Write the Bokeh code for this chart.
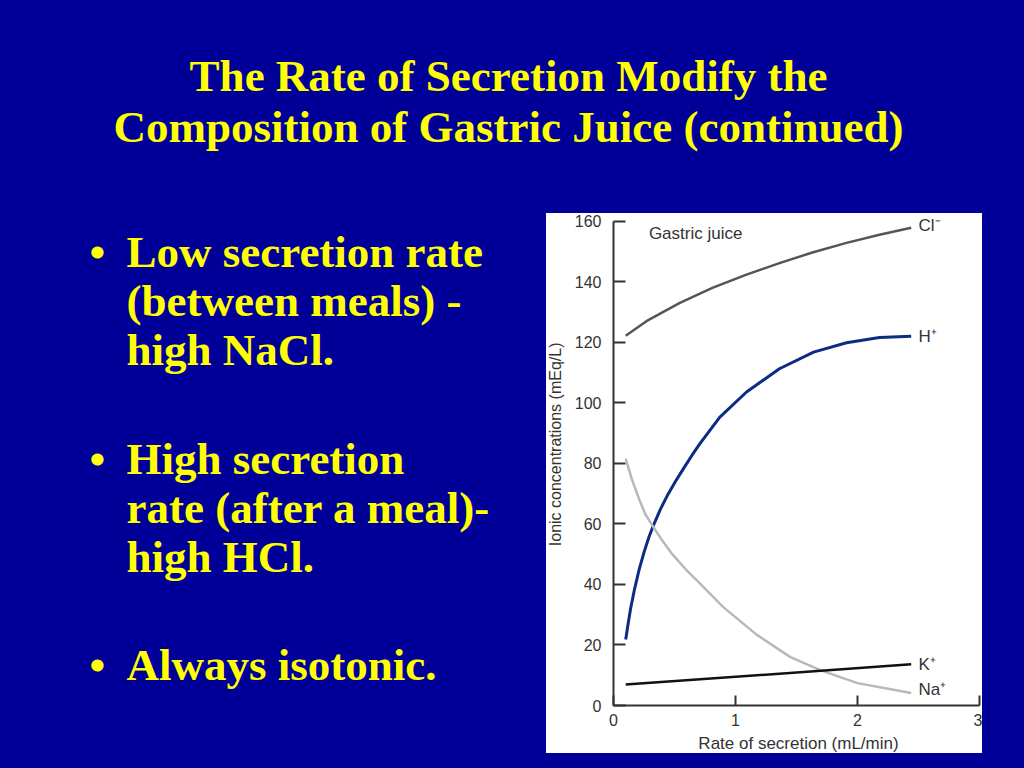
import math
from bokeh.plotting import figure
from bokeh.layouts import column, row
from bokeh.models import Range1d, FixedTicker, GlobalInlineStyleSheet, Spacer, Label
from bokeh.core.properties import value
from bokeh.embed import file_html
from bokeh.resources import INLINE

BG = "#000099"
YEL = "#FFFF00"
INK = "#333333"

# ---- texts ----
title_lines = ["The Rate of Secretion Modify the",
               "Composition of Gastric Juice (continued)"]
bullet_1 = ["Low secretion rate", "(between meals) -", "high NaCl."]
bullet_2 = ["High secretion", "rate (after a meal)-", "high HCl."]
bullet_3 = ["Always isotonic."]

x_label = "Rate of secretion (mL/min)"
y_label = "Ionic concentrations (mEq/L)"
panel_label = "Gastric juice"
ion_labels = ["Cl\u207b", "H\u207a", "K\u207a", "Na\u207a"]

x_ticks = [0, 1, 2, 3]
y_ticks = [0, 20, 40, 60, 80, 100, 120, 140, 160]

# ---- series ----
cl_x = [0.10, 0.27, 0.54, 0.81, 1.09, 1.36, 1.63, 1.91, 2.18, 2.44]
cl_y = [122.2, 127.0, 133.0, 138.0, 142.4, 146.2, 149.7, 152.9, 155.6, 157.9]

h_x = [0.10, 0.12, 0.14, 0.17, 0.21, 0.25, 0.29, 0.33, 0.385, 0.44, 0.51,
       0.58, 0.645, 0.71, 0.87, 1.09, 1.36, 1.64, 1.91, 2.18, 2.44]
h_y = [21.8, 27.0, 32.0, 38.0, 44.9, 50.6, 55.6, 59.8, 64.9, 69.3, 74.2,
       78.7, 82.8, 86.6, 95.2, 103.6, 111.3, 116.8, 119.9, 121.6, 122.0]

na_x = [0.10, 0.15, 0.21, 0.26, 0.33, 0.40, 0.48, 0.59, 0.70, 0.90, 1.17,
        1.45, 1.70, 2.00, 2.44]
na_y = [81.6, 74.8, 68.2, 63.3, 58.8, 54.5, 50.1, 45.1, 40.7, 32.5, 23.5,
        16.0, 11.6, 7.4, 4.1]

k_x = [0.10, 2.44]
k_y = [6.9, 13.6]


def blank(w, h, fill):
    f = figure(width=w, height=h, x_range=Range1d(0, w), y_range=Range1d(h, 0),
               output_backend="svg", toolbar_location=None, title=None,
               min_border=0, min_border_left=0, min_border_right=0,
               min_border_top=0, min_border_bottom=0,
               x_axis_location=None, y_axis_location=None)
    f.grid.visible = False
    f.outline_line_color = None
    f.background_fill_color = fill
    f.border_fill_color = fill
    return f


serif = value("Liberation Serif")
sans = value("Liberation Sans")

# ---- title ----
head = blank(1016, 213, BG)
head.text(x=[508, 508], y=[75, 126], text=title_lines, text_font=serif,
          text_font_style="bold", text_font_size="45px", text_color=YEL,
          text_align="center", text_baseline="middle")

# ---- bullets ----
left = blank(546, 547, BG)
groups = [(bullet_1, 38), (bullet_2, 245), (bullet_3, 451)]
for lines, mid in groups:
    ys = [mid + 49 * i for i in range(len(lines))]
    left.text(x=[126] * len(lines), y=ys, text=lines, text_font=serif,
              text_font_style="bold", text_font_size="45px", text_color=YEL,
              text_align="left", text_baseline="middle")
    left.text(x=[89], y=[mid], text=["\u2022"], text_font=serif,
              text_font_style="bold", text_font_size="45px", text_color=YEL,
              text_align="left", text_baseline="middle")

# ---- chart ----
chart = figure(width=416, height=520, x_range=Range1d(0, 3), y_range=Range1d(0, 162.6),
               output_backend="svg", toolbar_location=None, title=None,
               min_border_left=47, min_border_right=3, min_border_top=0, min_border_bottom=28)
chart.background_fill_color = "white"
chart.border_fill_color = "white"
chart.outline_line_color = None
chart.grid.visible = False

chart.line(cl_x, cl_y, line_color="#555555", line_width=2.5, line_join="round")
chart.line(h_x, h_y, line_color="#0c2c84", line_width=3, line_join="round")
chart.line(na_x, na_y, line_color="#b8b8b8", line_width=2.5, line_join="round")
chart.line(k_x, k_y, line_color="#111111", line_width=2.5, line_join="round")

chart.add_layout(Label(x=0.29, y=156, text=panel_label, text_font="Liberation Sans",
                       text_font_size="17px", text_color=INK, text_align="left",
                       text_baseline="middle"))
end_y = [cl_y[-1] + 0.8, h_y[-1], k_y[-1], na_y[-1] + 1.2]
for name, yv in zip(ion_labels, end_y):
    chart.add_layout(Label(x=2.50, y=yv, text=name, text_font="Liberation Sans",
                           text_font_size="17px", text_color=INK, text_align="left",
                           text_baseline="middle"))

for ax in (chart.xaxis[0], chart.yaxis[0]):
    ax.axis_line_color = INK
    ax.axis_line_width = 2
    ax.major_tick_line_color = INK
    ax.major_tick_line_width = 2
    ax.major_tick_out = 0
    ax.minor_tick_line_color = None
    ax.major_label_text_font = "Liberation Sans"
    ax.major_label_text_font_size = "16px"
    ax.major_label_text_color = INK

chart.xaxis[0].ticker = FixedTicker(ticks=x_ticks)
chart.yaxis[0].ticker = FixedTicker(ticks=y_ticks)
chart.yaxis[0].bounds = (y_ticks[0], y_ticks[-1])
chart.xaxis[0].major_tick_in = 10
chart.yaxis[0].major_tick_in = 12
chart.xaxis[0].major_label_standoff = 8
chart.yaxis[0].major_label_standoff = 12

# axis titles in thin white strips beside the chart
ylab = blank(20, 520, "white")
ylab.text(x=[9], y=[244], text=[y_label], text_font=sans, text_font_size="16px",
          text_color=INK, text_align="center", text_baseline="middle", angle=math.pi / 2)
xlab = blank(436, 20, "white")
xlab.text(x=[252], y=[10], text=[x_label], text_font=sans, text_font_size="17px",
          text_color=INK, text_align="center", text_baseline="middle")

WHITE = {"background-color": "white"}
white_panel = column(row(ylab, chart, styles=WHITE), xlab, styles=WHITE)
panel = column(white_panel, Spacer(width=436, height=7))
layout = column(head, row(left, panel, Spacer(width=34, height=547)))
layout.stylesheets = [GlobalInlineStyleSheet(css="html, body { background-color: #000099; }")]

open("out.html", "w").write(file_html(layout, INLINE))
